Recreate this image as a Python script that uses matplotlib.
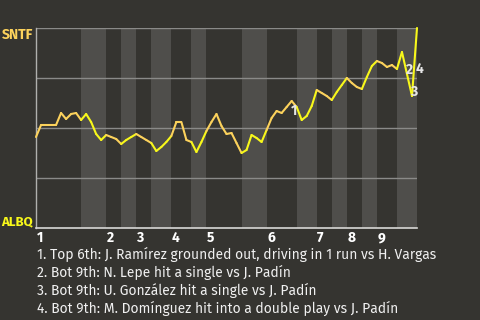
import numpy as np
import matplotlib
matplotlib.use("Agg")
import matplotlib.pyplot as plt
from matplotlib.collections import LineCollection

# SNTF win probability (%) after each plate appearance, 0 = first pitch
win_prob = [45.5, 51.5, 51.5, 51.5, 51.5, 57.5, 54.5, 57, 57.5, 54,
             57, 53, 47, 44, 46.5, 45.5, 44.5, 42, 44, 45.5,
             47, 45.5, 44, 42.5, 38.5, 40.5, 43, 46, 53, 53,
             44, 43, 38, 43, 48.5, 53, 57, 51, 47, 47.5,
             42.5, 37.5, 39, 46.5, 45, 43, 49, 55, 58.5, 57.5,
             60.5, 63.5, 60.5, 54, 56, 61, 69, 67.5, 66, 64,
             68, 71.5, 75, 72.5, 70.5, 69.5, 75.5, 81, 83.5, 82.5,
             80.5, 81.5, 79.5, 88, 77, 66, 100]

# plate appearances per half inning (top 1, bot 1, top 2, ...)
half_pa = [9, 5, 3, 3, 3, 4, 4, 3, 7, 5, 6, 4, 3, 3, 3, 3, 4, 4]
innings = ["1", "2", "3", "4", "5", "6", "7", "8", "9"]

away_team = "SNTF"
home_team = "ALBQ"

# big plays: (plate appearance index, label)
key_plays = [(51, "1"), (74, "2"), (75, "3"), (76, "4")]
play_notes = [
    "1. Top 6th: J. Ramírez grounded out, driving in 1 run vs H. Vargas",
    "2. Bot 9th: N. Lepe hit a single vs J. Padín",
    "3. Bot 9th: U. González hit a single vs J. Padín",
    "4. Bot 9th: M. Domínguez hit into a double play vs J. Padín",
]

BG = "#353430"
BAND = "#4f4e4b"
AWAY_C = "#fcd25c"
HOME_C = "#f8f81a"

plt.rcParams["font.family"] = ["Fira Sans", "Open Sans", "DejaVu Sans"]

fig = plt.figure(figsize=(4.8, 3.2), dpi=100, facecolor=BG)
ax = fig.add_axes([0.075, 0.2875, 0.79375, 0.625])
ax.set_facecolor(BG)

bounds = np.concatenate([[0], np.cumsum(half_pa)])
n = len(win_prob) - 1

# shade the bottom halves, colour segments by batting team
seg_colors = []
for k in range(len(half_pa)):
    if k % 2 == 1:
        ax.axvspan(bounds[k], bounds[k + 1], color=BAND, lw=0, zorder=0)
    seg_colors += [AWAY_C if k % 2 == 0 else HOME_C] * half_pa[k]

for lvl in [25, 50, 75, 100]:
    ax.axhline(lvl, color="#8a8a88", lw=1, zorder=1)

x = np.arange(len(win_prob))
pts = np.column_stack([x, win_prob])
segs = np.stack([pts[:-1], pts[1:]], axis=1)
lc = LineCollection(segs, colors=seg_colors, linewidths=1.5, zorder=3,
                    capstyle="round", joinstyle="round")
lc.set_clip_on(False)
ax.add_collection(lc)

for idx, lab in key_plays:
    mx = idx - 0.5
    my = (win_prob[idx - 1] + win_prob[idx]) / 2
    ax.annotate(lab, (mx, my), xytext=(3.4, -4.7), textcoords="offset points",
                ha="center", va="center", color="#e6e6e6", fontsize=10,
                fontweight="bold", zorder=4)

ax.set_xlim(0, n)
ax.set_ylim(0, 100)
ax.set_xticks([])
ax.set_yticks([])
for side in ["top", "right"]:
    ax.spines[side].set_visible(False)
ax.spines["left"].set_color("#b0b0ae")
ax.spines["bottom"].set_color("#d8d8d6")
ax.spines["left"].set_linewidth(1)
ax.spines["bottom"].set_linewidth(1.2)

trans = ax.get_xaxis_transform()
for i, lab in enumerate(innings):
    ax.text(bounds[2 * i] + 0.1, -0.05, lab, transform=trans, ha="left",
            va="center", color="white", fontsize=10, fontweight="bold")

ax.text(-0.008, 0.965, away_team, transform=ax.transAxes, ha="right",
        va="center", color=AWAY_C, fontsize=10, fontweight="bold")
ax.text(-0.008, 0.03, home_team, transform=ax.transAxes, ha="right",
        va="center", color=HOME_C, fontsize=9.5, fontweight="bold")

for i, note in enumerate(play_notes):
    fig.text(0.077, 0.206 - i * 0.057, note, ha="left", va="center",
             color="#f0f0f0", fontsize=10)

fig.savefig("out.png", dpi=100, facecolor=BG)
